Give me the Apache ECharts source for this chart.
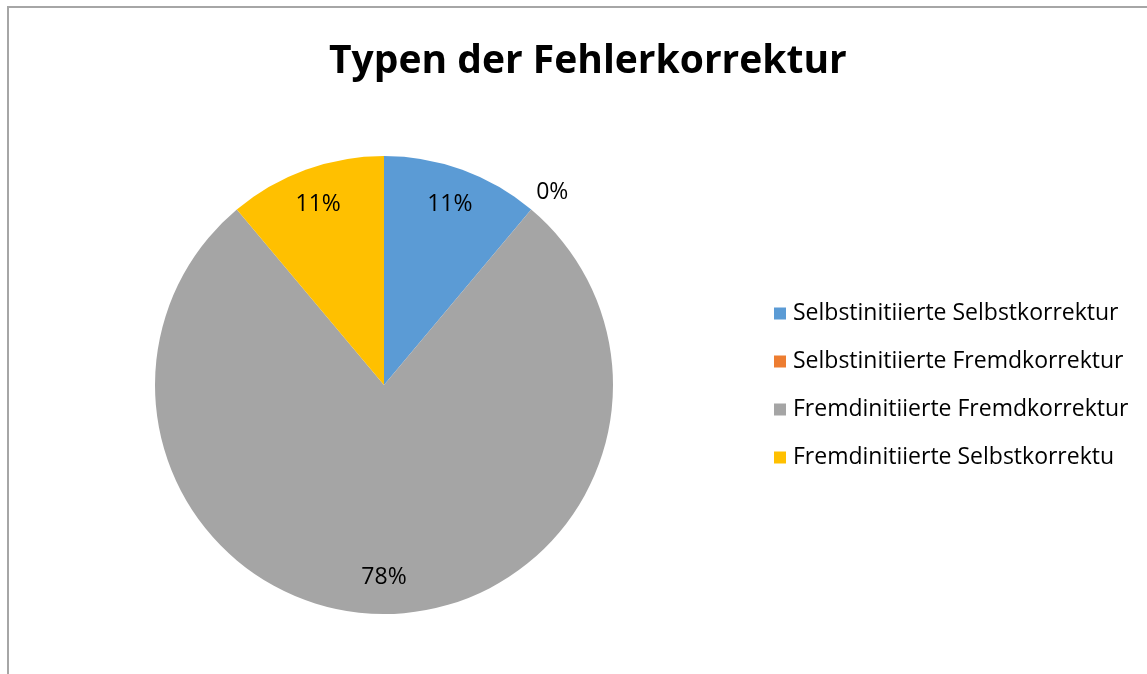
<!DOCTYPE html>
<html>
<head>
<meta charset="utf-8">
<script src="https://cdn.jsdelivr.net/npm/echarts@6/dist/echarts.min.js"></script>
<style>
  html, body { margin: 0; padding: 0; background: #fff; }
  #chart { width: 1147px; height: 674px; }
</style>
</head>
<body>
<div id="chart"></div>
<script>
// Kategorien und Werte (Anzahl Fälle)
const categories = [
    'Selbstinitiierte Selbstkorrektur',
    'Selbstinitiierte Fremdkorrektur',
    'Fremdinitiierte Fremdkorrektur',
    'Fremdinitiierte Selbstkorrektu'
];
const values = [1, 0, 7, 1];
const colors = ['#5b9bd5', '#ed7d31', '#a5a5a5', '#ffc000'];

const chart = echarts.init(document.getElementById('chart'));

const center = [384, 385];
const radius = 229;
const font = '"Open Sans", sans-serif';

// Hauptkreis ohne Beschriftung
const mainData = categories.map((name, i) => ({
    name: name,
    value: values[i],
    itemStyle: { color: colors[i] }
}));

// Unsichtbarer Ring nur für die Prozent-Beschriftung
const labelData = categories.map((name, i) => {
    const item = { name: name, value: values[i] };
    if (values[i] === 0) {
        // 0% steht außerhalb, leere zweite Zeile hebt den Text etwas an
        item.label = {
            position: 'outside',
            formatter: p => Math.round(p.percent) + '%\n ',
            lineHeight: 34
        };
    }
    return item;
});

chart.setOption({
    backgroundColor: '#fff',
    animation: false,
    title: {
        text: 'Typen der Fehlerkorrektur',
        left: 324,
        top: 37,
        textStyle: {
            fontFamily: font,
            fontWeight: 'bold',
            fontSize: 39,
            color: '#000'
        }
    },
    legend: {
        orient: 'vertical',
        left: 769,
        top: 297,
        itemWidth: 12,
        itemHeight: 12,
        itemGap: 25,
        icon: 'rect',
        data: categories,
        textStyle: {
            fontFamily: font,
            fontSize: 23,
            color: '#000',
            padding: [0, 0, 0, 2]
        }
    },
    graphic: [{
        type: 'rect',
        shape: { x: 8, y: 7, width: 1200, height: 700 },
        style: { fill: 'none', stroke: '#a6a6a6', lineWidth: 2 },
        silent: true
    }],
    series: [{
        type: 'pie',
        center: center,
        radius: radius,
        startAngle: 90,
        clockwise: true,
        avoidLabelOverlap: false,
        silent: true,
        label: { show: false },
        labelLine: { show: false },
        data: mainData
    }, {
        type: 'pie',
        center: center,
        radius: [150, radius],
        startAngle: 90,
        clockwise: true,
        avoidLabelOverlap: false,
        silent: true,
        legendHoverLink: false,
        itemStyle: { color: 'rgba(0,0,0,0)' },
        label: {
            show: true,
            position: 'inside',
            formatter: p => Math.round(p.percent) + '%',
            fontFamily: font,
            fontSize: 23,
            color: '#000'
        },
        labelLine: { show: false, length: 0, length2: 0 },
        data: labelData
    }]
});
</script>
</body>
</html>
